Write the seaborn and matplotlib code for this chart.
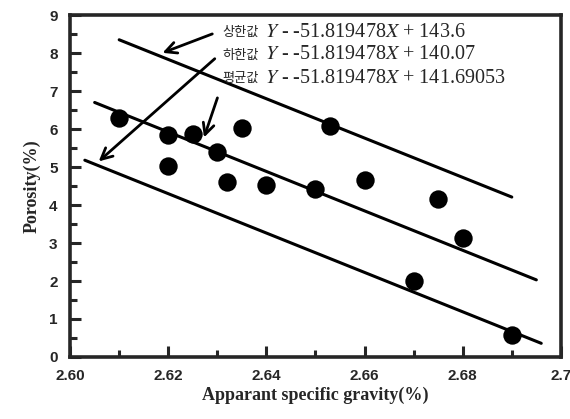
import numpy as np
import pandas as pd
import matplotlib
matplotlib.use("Agg")
import matplotlib.pyplot as plt
from matplotlib.ticker import MultipleLocator, FixedLocator
import seaborn as sns

# measured points
gravity = [2.61, 2.62, 2.62, 2.625, 2.63, 2.632, 2.635, 2.64, 2.65, 2.653,
           2.66, 2.67, 2.675, 2.68, 2.69]
porosity = [6.28, 5.84, 5.03, 5.87, 5.40, 4.61, 6.02, 4.53, 4.41, 6.08,
            4.66, 2.00, 4.16, 3.14, 0.58]

# regression band end points (upper / mean / lower)
upper_x = [2.61, 2.69]
upper_y = [8.35, 4.21]
mean_x = [2.605, 2.695]
mean_y = [6.70, 2.03]
lower_x = [2.603, 2.696]
lower_y = [5.18, 0.36]

xtick_vals = [2.60, 2.62, 2.64, 2.66, 2.68, 2.70]
xtick_labels = ["2.60", "2.62", "2.64", "2.66", "2.68", "2.7"]

sns.set_style("ticks")
plt.rcParams['mathtext.fontset'] = 'stix'

fig = plt.figure(figsize=(5.7, 4.19), dpi=100)
ax = fig.add_axes([0.123, 0.148, 0.861, 0.816])

pts = pd.DataFrame({'x': gravity, 'y': porosity})
sns.scatterplot(data=pts, x='x', y='y', ax=ax, color='black', s=175,
                edgecolor='black', linewidth=0, zorder=3)

for lx, ly in [(upper_x, upper_y), (mean_x, mean_y), (lower_x, lower_y)]:
    sns.lineplot(x=lx, y=ly, ax=ax, color='black', linewidth=2.2, zorder=2)

ax.set_xlim(2.60, 2.70)
ax.set_ylim(0, 9)
ax.xaxis.set_major_locator(FixedLocator(xtick_vals))
ax.set_xticklabels(xtick_labels)
ax.xaxis.set_minor_locator(MultipleLocator(0.01))
ax.yaxis.set_major_locator(MultipleLocator(1))
ax.yaxis.set_minor_locator(MultipleLocator(0.5))
ax.tick_params(which='major', direction='in', length=8, width=2.2,
               labelsize=11, pad=9, top=False, right=False)
ax.tick_params(which='minor', direction='in', length=5, width=2.2,
               top=False, right=False)
for lab in ax.get_xticklabels() + ax.get_yticklabels():
    lab.set_family('Liberation Sans')
    lab.set_fontweight('bold')
for sp in ax.spines.values():
    sp.set_visible(True)
    sp.set_linewidth(2.6)

ax.set_xlabel('Apparant specific gravity(%)', family='Liberation Serif',
              fontweight='bold', fontsize=13, labelpad=2)
ax.set_ylabel('Porosity(%)', family='Liberation Serif',
              fontweight='bold', fontsize=13, labelpad=6)

# equation labels with arrows
prefixes = ["상한값", "하한값", "평균값"]
equations = ["$Y$ - -51.819478$X$ + 143.6",
             "$Y$ - -51.819478$X$ + 140.07",
             "$Y$ - -51.819478$X$ + 141.69053"]
text_y = [8.55, 7.95, 7.34]
tail_xy = [(2.6295, 8.53), (2.6299, 7.90), (2.6302, 6.89)]
head_xy = [(2.6183, 7.98), (2.6054, 5.10), (2.6271, 5.71)]
for pre, eq, ty in zip(prefixes, equations, text_y):
    ax.text(2.6310, ty, pre, fontsize=9.5, va='center', ha='left',
            family='Noto Sans CJK KR')
    ax.annotate(eq, xy=(2.6310, ty), xytext=(31, 0), textcoords='offset points',
                fontsize=14.5, va='center', ha='left', family='Liberation Serif')
for (tx, ty), (hx, hy) in zip(tail_xy, head_xy):
    ax.annotate('', xy=(hx, hy), xytext=(tx, ty),
                arrowprops=dict(arrowstyle='->,head_length=0.8,head_width=0.4',
                                color='black', lw=2.0))

fig.savefig('out.png', dpi=100)
